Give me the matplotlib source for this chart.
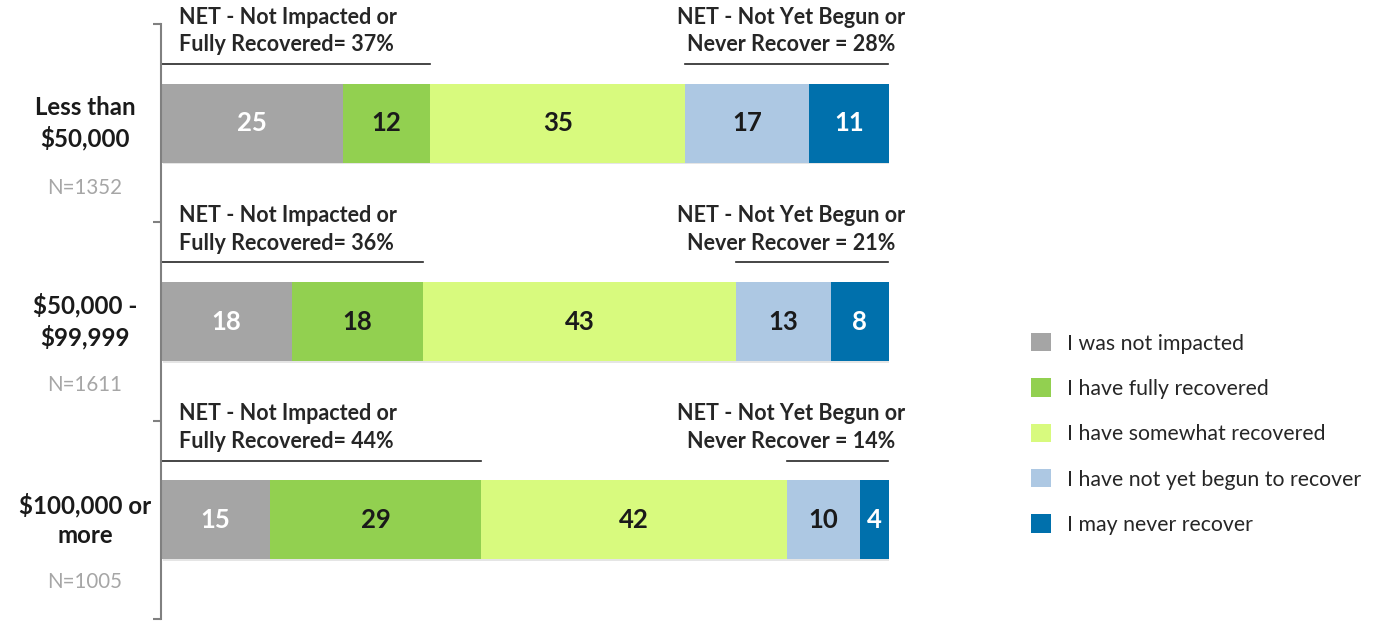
import matplotlib
matplotlib.use("Agg")
import matplotlib.pyplot as plt
from matplotlib.patches import Patch

plt.rcParams['font.family'] = ['Lato', 'DejaVu Sans']

categories = ["Less than\n$50,000", "$50,000 -\n$99,999", "$100,000 or\nmore"]
sample_sizes = ["N=1352", "N=1611", "N=1005"]
series_names = ["I was not impacted", "I have fully recovered", "I have somewhat recovered",
                "I have not yet begun to recover", "I may never recover"]
not_impacted = [25, 18, 15]
fully_recovered = [12, 18, 29]
somewhat_recovered = [35, 43, 42]
not_yet_begun = [17, 13, 10]
never_recover = [11, 8, 4]
net_left = [37, 36, 44]
net_right = [28, 21, 14]

colors = ["#A5A5A5", "#92D050", "#D8FA7E", "#ADC8E3", "#0070AC"]
label_colors = ["white", "#1A1A1A", "#1A1A1A", "#1A1A1A", "white"]

series = [not_impacted, fully_recovered, somewhat_recovered, not_yet_begun, never_recover]

W, H = 1373, 621
fig = plt.figure(figsize=(W / 100, H / 100), dpi=100)
ax = fig.add_axes([161 / W, 1 - 619 / H, (889 - 161) / W, (619 - 24) / H])
ax.set_xlim(0, 100)
ax.set_ylim(3, 0)

ypos = [i + 0.5 for i in range(len(categories))]
bar_h = 0.4

lefts = [0] * len(categories)
for s, vals in enumerate(series):
    bars = ax.barh(ypos, vals, left=lefts, height=bar_h, color=colors[s], edgecolor='none',
                   label=series_names[s], zorder=2)
    for b, v, l in zip(bars, vals, lefts):
        ax.text(l + v / 2, b.get_y() + bar_h / 2, f"{v}", ha='center', va='center',
                fontsize=18.5, fontweight='bold', color=label_colors[s], zorder=3)
    lefts = [a + b for a, b in zip(lefts, vals)]

# soft bar shadow
for y, tot in zip(ypos, lefts):
    ax.barh(y + 0.008, tot, left=0.3, height=bar_h, color="#D5D5D5", alpha=0.6, zorder=1,
            edgecolor='none')

text_col = "#262626"
for i, y in enumerate(ypos):
    line_y = y - 0.298
    text_y = y - 0.465
    ax.plot([0.2, net_left[i]], [line_y, line_y], color=text_col, lw=1.2, clip_on=False)
    ax.plot([100 - net_right[i], 99.9], [line_y, line_y], color=text_col, lw=1.2, clip_on=False)
    ax.text(2.5, text_y, f"NET - Not Impacted or\nFully Recovered= {net_left[i]}%", ha='left',
            va='center', fontsize=15.5, fontweight='bold', color=text_col, linespacing=1.4,
            clip_on=False)
    ax.text(86.6, text_y, f"NET - Not Yet Begun or\nNever Recover = {net_right[i]}%", ha='center',
            va='center', fontsize=15.5, fontweight='bold', color=text_col, linespacing=1.4,
            clip_on=False)
    fx = 85 / W
    fig.text(fx, 1 - (123 + 198.3 * i) / H, categories[i], ha='center', va='center',
             fontsize=17.3, fontweight='bold', color="#1A1A1A", linespacing=1.35)
    fig.text(fx, 1 - (188 + 197 * i) / H, sample_sizes[i], ha='center', va='center',
             fontsize=14.8, color="#A6A6A6")

for sp in ['top', 'right', 'bottom']:
    ax.spines[sp].set_visible(False)
ax.spines['left'].set_color("#808080")
ax.spines['left'].set_linewidth(1.5)
ax.set_yticks([0, 1, 2, 3])
ax.set_yticklabels([])
ax.tick_params(axis='y', length=6, width=1.5, color="#808080", direction='out')
ax.set_xticks([])

handles = [Patch(facecolor=c, edgecolor='none', label=n) for c, n in zip(colors, series_names)]
fig.legend(handles=handles, loc='center left', bbox_to_anchor=(1012 / W, 1 - 434 / H),
           frameon=False, fontsize=15.3, handlelength=0.95, handleheight=0.95, handletextpad=0.75,
           labelspacing=1.17, labelcolor="#262626")

fig.savefig("out.png", dpi=100)
